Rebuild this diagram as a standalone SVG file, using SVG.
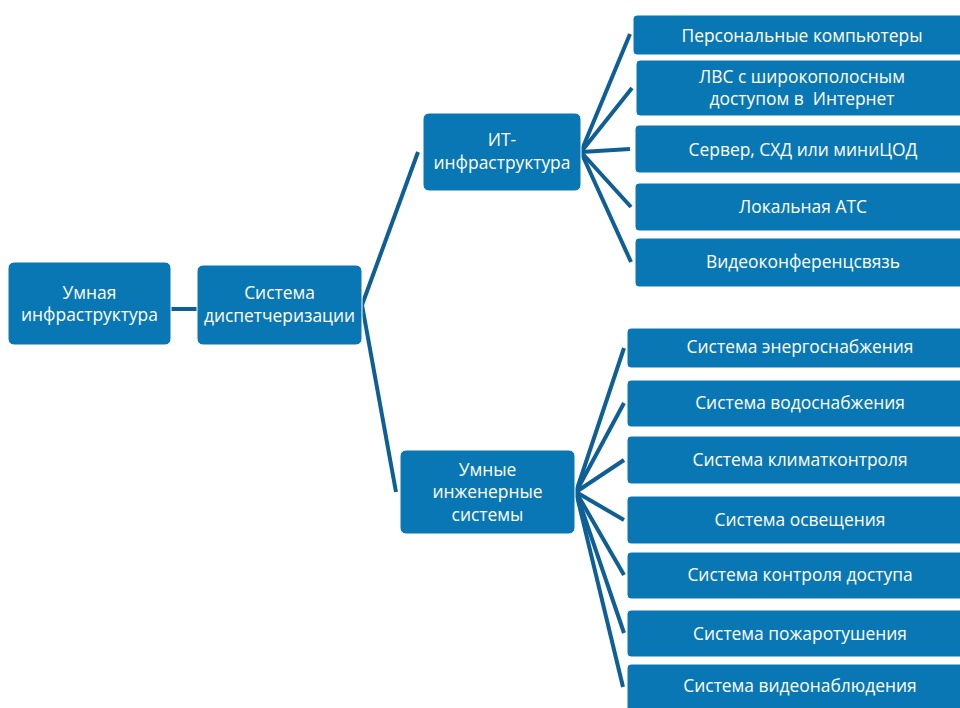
<svg xmlns="http://www.w3.org/2000/svg" width="960" height="708" viewBox="0 0 960 708">
<style>
.box{fill:#0a77b5;stroke:#ffffff;stroke-width:1}
.t{fill:#ffffff;font-family:"Open Sans","Noto Sans",sans-serif;font-size:17.4px;text-anchor:middle}
.c{stroke:#0e5f95;stroke-width:4;fill:none;stroke-linecap:butt}
</style>
<rect width="960" height="708" fill="#ffffff"/>
<g id="connectors">
<line class="c" x1="171" y1="309" x2="197" y2="309"/>
<line class="c" x1="362" y1="305" x2="418" y2="152"/>
<line class="c" x1="362" y1="305" x2="396" y2="492"/>
<line class="c" x1="581" y1="152" x2="630" y2="34"/>
<line class="c" x1="581" y1="152" x2="632" y2="88"/>
<line class="c" x1="581" y1="152" x2="630" y2="149"/>
<line class="c" x1="581" y1="152" x2="631" y2="207"/>
<line class="c" x1="581" y1="152" x2="631" y2="262"/>
<line class="c" x1="576" y1="492" x2="624" y2="348"/>
<line class="c" x1="576" y1="492" x2="624" y2="403"/>
<line class="c" x1="576" y1="492" x2="624" y2="460"/>
<line class="c" x1="576" y1="492" x2="624" y2="520"/>
<line class="c" x1="576" y1="492" x2="624" y2="575"/>
<line class="c" x1="576" y1="492" x2="624" y2="633"/>
<line class="c" x1="576" y1="492" x2="623" y2="687"/>
</g>
<g id="n-umnaya">
<rect class="box" x="8" y="262" width="163" height="83" rx="6"/>
<text class="t" x="89.5" y="299">Умная</text>
<text class="t" x="89.5" y="321">инфраструктура</text>
</g>
<g id="n-disp">
<rect class="box" x="197" y="265" width="165" height="80" rx="6"/>
<text class="t" x="279.5" y="299">Система</text>
<text class="t" x="279.5" y="322">диспетчеризации</text>
</g>
<g id="n-it">
<rect class="box" x="423" y="113" width="158" height="78" rx="6"/>
<text class="t" x="502" y="146">ИТ-</text>
<text class="t" x="502" y="169">инфраструктура</text>
</g>
<g id="n-eng">
<rect class="box" x="400" y="450" width="175" height="84" rx="6"/>
<text class="t" x="487.5" y="475.5">Умные</text>
<text class="t" x="487.5" y="498">инженерные</text>
<text class="t" x="487.5" y="521">системы</text>
</g>
<g id="n-pc">
<rect class="box" x="633" y="15" width="340" height="40" rx="4"/>
<text class="t" x="802" y="42">Персональные компьютеры</text>
</g>
<g id="n-lan">
<rect class="box" x="636" y="60" width="337" height="56" rx="4"/>
<text class="t" x="802" y="83">ЛВС с широкополосным</text>
<text class="t" x="802" y="105" xml:space="preserve">доступом в  Интернет</text>
</g>
<g id="n-srv">
<rect class="box" x="635" y="125" width="338" height="48" rx="4"/>
<text class="t" x="803" y="156">Сервер, СХД или миниЦОД</text>
</g>
<g id="n-ats">
<rect class="box" x="635" y="183" width="338" height="48" rx="4"/>
<text class="t" x="803" y="213">Локальная АТС</text>
</g>
<g id="n-vks">
<rect class="box" x="635" y="238" width="338" height="49" rx="4"/>
<text class="t" x="803" y="268">Видеоконференцсвязь</text>
</g>
<g id="n-energy">
<rect class="box" x="627" y="328" width="346" height="40" rx="4"/>
<text class="t" x="800" y="353">Система энергоснабжения</text>
</g>
<g id="n-water">
<rect class="box" x="627" y="380" width="346" height="47" rx="4"/>
<text class="t" x="800" y="409">Система водоснабжения</text>
</g>
<g id="n-climate">
<rect class="box" x="627" y="436" width="346" height="48" rx="4"/>
<text class="t" x="800" y="466">Система климатконтроля</text>
</g>
<g id="n-light">
<rect class="box" x="627" y="496" width="346" height="48" rx="4"/>
<text class="t" x="800" y="526">Система освещения</text>
</g>
<g id="n-access">
<rect class="box" x="627" y="552" width="346" height="47" rx="4"/>
<text class="t" x="800" y="581">Система контроля доступа</text>
</g>
<g id="n-fire">
<rect class="box" x="627" y="610" width="346" height="47" rx="4"/>
<text class="t" x="800" y="640">Система пожаротушения</text>
</g>
<g id="n-video">
<rect class="box" x="627" y="664" width="346" height="60" rx="4"/>
<text class="t" x="800" y="692">Система видеонаблюдения</text>
</g>
</svg>
